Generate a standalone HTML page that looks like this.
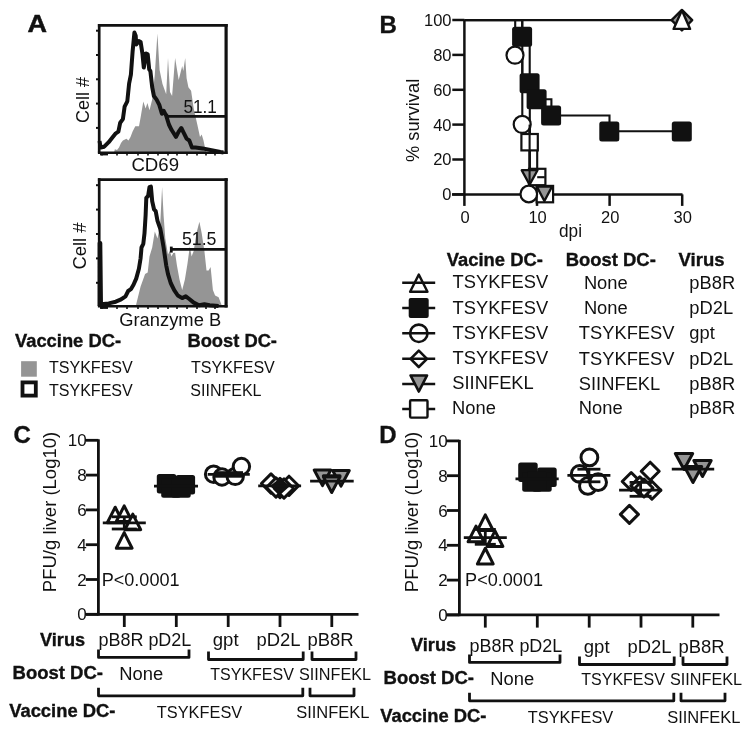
<!DOCTYPE html>
<html><head><meta charset="utf-8"><style>
html,body{margin:0;padding:0;background:#fff;}
body{width:751px;height:732px;overflow:hidden;}
svg{display:block;filter:grayscale(1);}
text{font-family:"Liberation Sans",sans-serif;fill:#111;}
</style></head><body>
<svg width="751" height="732" viewBox="0 0 751 732">
<rect width="751" height="732" fill="#fff"/>
<text x="27.6" y="32.4" font-size="24.5" font-weight="bold" stroke="#111" stroke-width="0.5" textLength="19.50" lengthAdjust="spacingAndGlyphs">A</text>
<polygon points="114.0,152.4 114.9,149.3 117.0,150.0 119.0,147.5 121.0,143.0 122.9,140.5 126.4,138.7 128.5,140.5 130.5,137.0 132.6,131.6 135.3,126.2 139.0,126.2 140.6,117.4 143.3,101.4 145.6,108.5 147.4,103.1 149.5,110.2 152.2,99.6 154.8,74.7 157.4,33.5 159.6,70.0 162.5,84.0 166.2,94.3 168.0,57.9 170.0,92.0 172.1,96.0 175.1,57.9 178.7,80.0 182.2,65.9 183.3,71.0 185.2,57.9 186.6,78.3 188.4,87.2 191.1,90.7 193.7,108.5 197.3,124.5 200.0,136.9 201.7,134.5 203.5,140.4 205.3,149.3 206.5,152.4" fill="#959597" stroke="none" stroke-width="0" stroke-linejoin="round"/>
<polyline points="99.5,141.0 100.7,147.6 104.2,146.7 108.7,142.2 112.2,137.8 115.8,133.3 118.4,131.6 120.2,122.7 122.9,119.1 124.6,106.7 127.3,101.4 129.1,83.6 130.9,74.7 132.6,51.6 134.4,32.6 135.7,35.7 136.2,44.5 138.9,41.0 140.6,41.9 142.4,53.4 143.8,67.6 146.0,53.4 147.7,54.3 149.2,69.4 150.4,71.2 152.2,87.2 153.9,96.0 156.6,99.6 159.3,104.9 161.9,113.8 163.6,110.8 166.2,115.6 168.9,124.5 171.5,129.8 176.0,136.9 178.7,131.6 181.3,128.0 184.0,133.3 186.6,138.7 189.3,140.5 192.0,147.6 195.5,147.6 202.6,148.4 211.5,150.2 220.4,152.0 223.5,152.4" fill="none" stroke="#111" stroke-width="4.0" stroke-linejoin="round"/>
<line x1="99.2" y1="152.8" x2="99.2" y2="24.0" stroke="#111" stroke-width="2.7" stroke-linecap="butt"/>
<line x1="97.9" y1="25.4" x2="227.7" y2="25.4" stroke="#111" stroke-width="2.8" stroke-linecap="butt"/>
<line x1="226.1" y1="24.0" x2="226.1" y2="154.0" stroke="#111" stroke-width="3.2" stroke-linecap="butt"/>
<line x1="97.9" y1="152.8" x2="227.5" y2="152.8" stroke="#111" stroke-width="2.5" stroke-linecap="butt"/>
<line x1="96.0" y1="30.7" x2="99.2" y2="30.7" stroke="#111" stroke-width="2.0" stroke-linecap="butt"/>
<line x1="96.0" y1="55.0" x2="99.2" y2="55.0" stroke="#111" stroke-width="2.0" stroke-linecap="butt"/>
<line x1="96.0" y1="79.3" x2="99.2" y2="79.3" stroke="#111" stroke-width="2.0" stroke-linecap="butt"/>
<line x1="96.0" y1="103.6" x2="99.2" y2="103.6" stroke="#111" stroke-width="2.0" stroke-linecap="butt"/>
<line x1="96.0" y1="127.9" x2="99.2" y2="127.9" stroke="#111" stroke-width="2.0" stroke-linecap="butt"/>
<line x1="102.0" y1="152.8" x2="102.0" y2="155.4" stroke="#111" stroke-width="1.6" stroke-linecap="butt"/>
<line x1="117.0" y1="152.8" x2="117.0" y2="155.4" stroke="#111" stroke-width="1.6" stroke-linecap="butt"/>
<line x1="127.0" y1="152.8" x2="127.0" y2="155.4" stroke="#111" stroke-width="1.6" stroke-linecap="butt"/>
<line x1="138.0" y1="152.8" x2="138.0" y2="155.4" stroke="#111" stroke-width="1.6" stroke-linecap="butt"/>
<line x1="148.0" y1="152.8" x2="148.0" y2="155.4" stroke="#111" stroke-width="1.6" stroke-linecap="butt"/>
<line x1="158.0" y1="152.8" x2="158.0" y2="155.4" stroke="#111" stroke-width="1.6" stroke-linecap="butt"/>
<line x1="168.0" y1="152.8" x2="168.0" y2="155.4" stroke="#111" stroke-width="1.6" stroke-linecap="butt"/>
<line x1="177.0" y1="152.8" x2="177.0" y2="155.4" stroke="#111" stroke-width="1.6" stroke-linecap="butt"/>
<line x1="187.0" y1="152.8" x2="187.0" y2="155.4" stroke="#111" stroke-width="1.6" stroke-linecap="butt"/>
<line x1="197.0" y1="152.8" x2="197.0" y2="155.4" stroke="#111" stroke-width="1.6" stroke-linecap="butt"/>
<line x1="206.0" y1="152.8" x2="206.0" y2="155.4" stroke="#111" stroke-width="1.6" stroke-linecap="butt"/>
<line x1="215.0" y1="152.8" x2="215.0" y2="155.4" stroke="#111" stroke-width="1.6" stroke-linecap="butt"/>
<line x1="100.0" y1="154.4" x2="108.0" y2="154.4" stroke="#111" stroke-width="2.0" stroke-linecap="butt"/>
<line x1="166.6" y1="116.4" x2="226.0" y2="116.4" stroke="#111" stroke-width="2.7" stroke-linecap="butt"/>
<line x1="167.2" y1="113.8" x2="167.2" y2="119.0" stroke="#111" stroke-width="2.0" stroke-linecap="butt"/>
<text x="183.5" y="113.1" font-size="18" textLength="33.40" lengthAdjust="spacingAndGlyphs">51.1</text>
<text x="131.4" y="170.7" font-size="18" textLength="47.60" lengthAdjust="spacingAndGlyphs">CD69</text>
<text transform="translate(89.4,100.0) rotate(-90)" x="0" y="0" font-size="18" text-anchor="middle" textLength="46.0" lengthAdjust="spacingAndGlyphs">Cell #</text>
<polygon points="136.0,306.3 136.2,304.3 140.6,286.6 145.1,274.1 147.7,272.4 149.5,256.4 152.2,247.5 154.8,231.5 157.5,238.6 160.2,224.4 162.1,187.1 163.6,215.5 165.3,238.6 168.0,254.6 169.8,251.0 171.5,256.4 173.2,253.0 175.1,252.8 176.9,265.3 179.5,279.5 182.2,290.1 184.9,279.5 187.5,263.5 189.8,246.6 191.6,256.4 193.7,251.0 196.4,233.3 199.4,221.7 201.7,233.3 204.4,251.0 206.5,270.6 208.6,270.6 210.6,267.0 212.9,290.1 215.1,295.5 218.6,297.2 221.3,304.3 222.0,306.3" fill="#959597" stroke="none" stroke-width="0" stroke-linejoin="round"/>
<polyline points="99.6,306.0 99.6,243.0 100.3,243.0 101.0,304.3 108.7,303.4 115.8,301.7 121.1,299.4 125.5,296.3 128.2,291.0 130.9,289.2 133.5,284.8 136.2,278.6 138.9,268.8 140.6,258.2 141.5,247.5 143.3,243.9 144.5,233.3 145.6,215.5 146.3,197.8 148.1,196.0 149.5,187.1 150.9,186.6 152.2,201.3 154.0,209.3 155.7,211.1 157.5,220.9 160.2,228.5 161.8,236.8 163.6,247.5 166.2,265.3 168.0,274.1 170.7,283.0 174.2,290.1 177.8,295.5 182.2,298.1 185.8,296.3 189.3,299.0 193.7,302.6 199.1,305.2 204.4,304.3 209.7,305.2 218.6,306.1" fill="none" stroke="#111" stroke-width="4.0" stroke-linejoin="round"/>
<line x1="99.2" y1="306.3" x2="99.2" y2="178.2" stroke="#111" stroke-width="2.7" stroke-linecap="butt"/>
<line x1="97.9" y1="179.6" x2="227.7" y2="179.6" stroke="#111" stroke-width="2.8" stroke-linecap="butt"/>
<line x1="226.1" y1="178.2" x2="226.1" y2="307.5" stroke="#111" stroke-width="3.2" stroke-linecap="butt"/>
<line x1="97.9" y1="306.3" x2="227.5" y2="306.3" stroke="#111" stroke-width="2.5" stroke-linecap="butt"/>
<line x1="96.0" y1="185.2" x2="99.2" y2="185.2" stroke="#111" stroke-width="2.0" stroke-linecap="butt"/>
<line x1="96.0" y1="209.6" x2="99.2" y2="209.6" stroke="#111" stroke-width="2.0" stroke-linecap="butt"/>
<line x1="96.0" y1="234.0" x2="99.2" y2="234.0" stroke="#111" stroke-width="2.0" stroke-linecap="butt"/>
<line x1="96.0" y1="258.4" x2="99.2" y2="258.4" stroke="#111" stroke-width="2.0" stroke-linecap="butt"/>
<line x1="96.0" y1="282.8" x2="99.2" y2="282.8" stroke="#111" stroke-width="2.0" stroke-linecap="butt"/>
<line x1="102.0" y1="306.3" x2="102.0" y2="308.9" stroke="#111" stroke-width="1.6" stroke-linecap="butt"/>
<line x1="117.0" y1="306.3" x2="117.0" y2="308.9" stroke="#111" stroke-width="1.6" stroke-linecap="butt"/>
<line x1="127.0" y1="306.3" x2="127.0" y2="308.9" stroke="#111" stroke-width="1.6" stroke-linecap="butt"/>
<line x1="138.0" y1="306.3" x2="138.0" y2="308.9" stroke="#111" stroke-width="1.6" stroke-linecap="butt"/>
<line x1="148.0" y1="306.3" x2="148.0" y2="308.9" stroke="#111" stroke-width="1.6" stroke-linecap="butt"/>
<line x1="158.0" y1="306.3" x2="158.0" y2="308.9" stroke="#111" stroke-width="1.6" stroke-linecap="butt"/>
<line x1="168.0" y1="306.3" x2="168.0" y2="308.9" stroke="#111" stroke-width="1.6" stroke-linecap="butt"/>
<line x1="177.0" y1="306.3" x2="177.0" y2="308.9" stroke="#111" stroke-width="1.6" stroke-linecap="butt"/>
<line x1="187.0" y1="306.3" x2="187.0" y2="308.9" stroke="#111" stroke-width="1.6" stroke-linecap="butt"/>
<line x1="197.0" y1="306.3" x2="197.0" y2="308.9" stroke="#111" stroke-width="1.6" stroke-linecap="butt"/>
<line x1="206.0" y1="306.3" x2="206.0" y2="308.9" stroke="#111" stroke-width="1.6" stroke-linecap="butt"/>
<line x1="215.0" y1="306.3" x2="215.0" y2="308.9" stroke="#111" stroke-width="1.6" stroke-linecap="butt"/>
<line x1="100.0" y1="307.9" x2="108.0" y2="307.9" stroke="#111" stroke-width="2.0" stroke-linecap="butt"/>
<line x1="171.0" y1="249.3" x2="226.0" y2="249.3" stroke="#111" stroke-width="2.8" stroke-linecap="butt"/>
<line x1="171.3" y1="246.6" x2="171.3" y2="252.6" stroke="#111" stroke-width="2.8" stroke-linecap="butt"/>
<text x="181.9" y="245.0" font-size="18" textLength="34.60" lengthAdjust="spacingAndGlyphs">51.5</text>
<text x="119.2" y="326.0" font-size="18" textLength="102.00" lengthAdjust="spacingAndGlyphs">Granzyme B</text>
<text transform="translate(86.3,246.0) rotate(-90)" x="0" y="0" font-size="18" text-anchor="middle" textLength="47.0" lengthAdjust="spacingAndGlyphs">Cell #</text>
<text x="15.0" y="346.6" font-size="18" font-weight="bold" stroke="#111" stroke-width="0.35" textLength="106.00" lengthAdjust="spacingAndGlyphs">Vaccine DC-</text>
<text x="187.4" y="346.6" font-size="18" font-weight="bold" stroke="#111" stroke-width="0.35" textLength="89.60" lengthAdjust="spacingAndGlyphs">Boost DC-</text>
<rect x="21.1" y="361.2" width="15.7" height="15.5" fill="#959597"/>
<rect x="22.5" y="382.4" width="13.3" height="13.2" fill="#fff" stroke="#111" stroke-width="3.8"/>
<text x="48.9" y="372.5" font-size="16" textLength="83.90" lengthAdjust="spacingAndGlyphs">TSYKFESV</text>
<text x="48.9" y="395.7" font-size="16" textLength="83.90" lengthAdjust="spacingAndGlyphs">TSYKFESV</text>
<text x="191.0" y="372.5" font-size="16" textLength="83.80" lengthAdjust="spacingAndGlyphs">TSYKFESV</text>
<text x="190.3" y="395.9" font-size="16" textLength="71.20" lengthAdjust="spacingAndGlyphs">SIINFEKL</text>
<text x="379.4" y="32.7" font-size="24" font-weight="bold" stroke="#111" stroke-width="0.35">B</text>
<line x1="464.4" y1="20.0" x2="464.4" y2="195.5" stroke="#111" stroke-width="2.5" stroke-linecap="butt"/>
<line x1="452.0" y1="194.4" x2="682.5" y2="194.4" stroke="#111" stroke-width="2.5" stroke-linecap="butt"/>
<line x1="452.3" y1="20.0" x2="464.4" y2="20.0" stroke="#111" stroke-width="2.5" stroke-linecap="butt"/>
<text x="451.5" y="25.9" font-size="16.5" text-anchor="end">100</text>
<line x1="452.3" y1="54.9" x2="464.4" y2="54.9" stroke="#111" stroke-width="2.5" stroke-linecap="butt"/>
<text x="451.5" y="60.8" font-size="16.5" text-anchor="end">80</text>
<line x1="452.3" y1="89.8" x2="464.4" y2="89.8" stroke="#111" stroke-width="2.5" stroke-linecap="butt"/>
<text x="451.5" y="95.7" font-size="16.5" text-anchor="end">60</text>
<line x1="452.3" y1="124.6" x2="464.4" y2="124.6" stroke="#111" stroke-width="2.5" stroke-linecap="butt"/>
<text x="451.5" y="130.5" font-size="16.5" text-anchor="end">40</text>
<line x1="452.3" y1="159.5" x2="464.4" y2="159.5" stroke="#111" stroke-width="2.5" stroke-linecap="butt"/>
<text x="451.5" y="165.4" font-size="16.5" text-anchor="end">20</text>
<line x1="452.3" y1="194.4" x2="464.4" y2="194.4" stroke="#111" stroke-width="2.5" stroke-linecap="butt"/>
<text x="451.5" y="200.3" font-size="16.5" text-anchor="end">0</text>
<line x1="464.4" y1="194.4" x2="464.4" y2="205.9" stroke="#111" stroke-width="2.5" stroke-linecap="butt"/>
<text x="465.0" y="222.9" font-size="16.5" text-anchor="middle">0</text>
<line x1="537.0" y1="194.4" x2="537.0" y2="205.9" stroke="#111" stroke-width="2.5" stroke-linecap="butt"/>
<text x="537.6" y="222.9" font-size="16.5" text-anchor="middle">10</text>
<line x1="609.6" y1="194.4" x2="609.6" y2="205.9" stroke="#111" stroke-width="2.5" stroke-linecap="butt"/>
<text x="610.2" y="222.9" font-size="16.5" text-anchor="middle">20</text>
<line x1="682.2" y1="194.4" x2="682.2" y2="205.9" stroke="#111" stroke-width="2.5" stroke-linecap="butt"/>
<text x="682.8" y="222.9" font-size="16.5" text-anchor="middle">30</text>
<text x="559.0" y="236.6" font-size="18" textLength="23.00" lengthAdjust="spacingAndGlyphs">dpi</text>
<text transform="translate(419.0,120.4) rotate(-90)" x="0" y="0" font-size="18" text-anchor="middle" textLength="83.2" lengthAdjust="spacingAndGlyphs">% survival</text>
<line x1="464.4" y1="20.1" x2="682.0" y2="20.1" stroke="#111" stroke-width="2.1" stroke-linecap="butt"/>
<polyline points="464.4,20.1 522.2,20.1 522.2,36.8 529.7,36.8 529.7,83.4 537.0,83.4 537.0,99.2 551.4,99.2 551.4,115.5 609.5,115.5 609.5,131.2 682.0,131.2" fill="none" stroke="#111" stroke-width="2.1" stroke-linejoin="miter"/>
<polyline points="515.2,20.1 515.2,55.2 522.3,55.2 522.3,124.6 529.6,124.6 529.6,194.4" fill="none" stroke="#111" stroke-width="2.1" stroke-linejoin="miter"/>
<polyline points="522.3,20.1 522.3,83.0 529.8,83.0 529.8,142.2 537.2,142.2 537.2,177.2 544.8,177.2 544.8,194.4" fill="none" stroke="#111" stroke-width="2.1" stroke-linejoin="miter"/>
<polyline points="529.8,142.0 529.8,177.2 544.8,177.2" fill="none" stroke="#111" stroke-width="2.1" stroke-linejoin="miter"/>
<polygon points="681.9,9.9 692.2,20.2 681.9,30.5 671.6,20.2" fill="#959597" stroke="#111" stroke-width="2.4" stroke-linejoin="round"/>
<polygon points="681.9,10.3 690.1,28.9 673.6,28.9" fill="#fff" stroke="#111" stroke-width="2.4" stroke-linejoin="round"/>
<rect x="512.1" y="26.8" width="20" height="20" rx="2.5" fill="#111"/>
<circle cx="515.0" cy="55.2" r="8.5" fill="#fff" stroke="#111" stroke-width="2.2"/>
<rect x="519.6" y="73.3" width="20" height="20" rx="2.5" fill="#111"/>
<rect x="526.6" y="89.2" width="20" height="20" rx="2.5" fill="#111"/>
<rect x="541.1" y="105.4" width="20" height="20" rx="2.5" fill="#111"/>
<rect x="599.3" y="121.4" width="20" height="20" rx="2.5" fill="#111"/>
<rect x="671.8" y="121.4" width="20" height="20" rx="2.5" fill="#111"/>
<circle cx="522.2" cy="124.4" r="8.5" fill="#fff" stroke="#111" stroke-width="2.2"/>
<rect x="521.4" y="134.0" width="16.4" height="16.4" fill="#fff" stroke="#111" stroke-width="2.2"/>
<rect x="529.0" y="168.8" width="16.4" height="16.4" fill="#fff" stroke="#111" stroke-width="2.2"/>
<polygon points="521.7,170.2 537.5,170.2 529.6,184.6" fill="#959597" stroke="#111" stroke-width="2.3" stroke-linejoin="round"/>
<line x1="529.6" y1="124.6" x2="529.6" y2="194.4" stroke="#111" stroke-width="2.1" stroke-linecap="butt"/>
<line x1="537.2" y1="177.2" x2="544.8" y2="177.2" stroke="#111" stroke-width="2.1" stroke-linecap="butt"/>
<rect x="536.7" y="185.9" width="16.4" height="16.4" fill="#fff" stroke="#111" stroke-width="2.2"/>
<polygon points="536.8,186.6 552.0,186.6 544.4,201.0" fill="#959597" stroke="#111" stroke-width="2.3" stroke-linejoin="round"/>
<circle cx="528.8" cy="194.0" r="8.3" fill="#fff" stroke="#111" stroke-width="2.2"/>
<text x="446.8" y="265.5" font-size="18" font-weight="bold" stroke="#111" stroke-width="0.35" textLength="96.00" lengthAdjust="spacingAndGlyphs">Vacine DC-</text>
<text x="565.8" y="265.6" font-size="18" font-weight="bold" stroke="#111" stroke-width="0.35" textLength="90.00" lengthAdjust="spacingAndGlyphs">Boost DC-</text>
<text x="678.6" y="265.6" font-size="18" font-weight="bold" stroke="#111" stroke-width="0.35" textLength="46.00" lengthAdjust="spacingAndGlyphs">Virus</text>
<text x="452.5" y="287.6" font-size="18" textLength="95.72" lengthAdjust="spacingAndGlyphs">TSYKFESV</text>
<text x="583.9" y="288.7" font-size="18" textLength="43.81" lengthAdjust="spacingAndGlyphs">None</text>
<text x="689.3" y="288.7" font-size="18" textLength="45.84" lengthAdjust="spacingAndGlyphs">pB8R</text>
<text x="452.5" y="313.7" font-size="18" textLength="95.72" lengthAdjust="spacingAndGlyphs">TSYKFESV</text>
<text x="583.9" y="314.1" font-size="18" textLength="43.81" lengthAdjust="spacingAndGlyphs">None</text>
<text x="689.3" y="314.1" font-size="18" textLength="43.81" lengthAdjust="spacingAndGlyphs">pD2L</text>
<text x="452.5" y="339.0" font-size="18" textLength="95.72" lengthAdjust="spacingAndGlyphs">TSYKFESV</text>
<text x="578.8" y="339.4" font-size="18" textLength="95.72" lengthAdjust="spacingAndGlyphs">TSYKFESV</text>
<text x="689.3" y="339.4" font-size="18" textLength="25.47" lengthAdjust="spacingAndGlyphs">gpt</text>
<text x="452.5" y="364.2" font-size="18" textLength="95.72" lengthAdjust="spacingAndGlyphs">TSYKFESV</text>
<text x="578.8" y="364.6" font-size="18" textLength="95.72" lengthAdjust="spacingAndGlyphs">TSYKFESV</text>
<text x="689.3" y="364.6" font-size="18" textLength="43.81" lengthAdjust="spacingAndGlyphs">pD2L</text>
<text x="452.3" y="389.3" font-size="18" textLength="81.47" lengthAdjust="spacingAndGlyphs">SIINFEKL</text>
<text x="578.8" y="389.7" font-size="18" textLength="81.47" lengthAdjust="spacingAndGlyphs">SIINFEKL</text>
<text x="689.3" y="389.7" font-size="18" textLength="45.84" lengthAdjust="spacingAndGlyphs">pB8R</text>
<text x="452.1" y="413.6" font-size="18" textLength="43.81" lengthAdjust="spacingAndGlyphs">None</text>
<text x="578.8" y="414.0" font-size="18" textLength="43.81" lengthAdjust="spacingAndGlyphs">None</text>
<text x="689.3" y="414.0" font-size="18" textLength="45.84" lengthAdjust="spacingAndGlyphs">pB8R</text>
<polygon points="418.8,274.6 427.5,291.8 410.1,291.8" fill="#fff" stroke="#111" stroke-width="2.4" stroke-linejoin="round"/>
<line x1="402.2" y1="282.7" x2="435.2" y2="282.7" stroke="#111" stroke-width="2.5" stroke-linecap="butt"/>
<line x1="402.2" y1="308.0" x2="435.2" y2="308.0" stroke="#111" stroke-width="2.5" stroke-linecap="butt"/>
<rect x="408.7" y="298.0" width="20" height="20" rx="2" fill="#111"/>
<circle cx="418.8" cy="333.3" r="8.7" fill="#fff" stroke="#111" stroke-width="2.6"/>
<line x1="402.2" y1="333.3" x2="435.2" y2="333.3" stroke="#111" stroke-width="2.5" stroke-linecap="butt"/>
<polygon points="418.8,350.6 427.0,358.8 418.8,367.0 410.6,358.8" fill="#fff" stroke="#111" stroke-width="2.6" stroke-linejoin="round"/>
<line x1="402.2" y1="358.7" x2="435.2" y2="358.7" stroke="#111" stroke-width="2.5" stroke-linecap="butt"/>
<line x1="402.2" y1="384.0" x2="435.2" y2="384.0" stroke="#111" stroke-width="2.5" stroke-linecap="butt"/>
<polygon points="410.6,375.5 427.0,375.5 418.8,391.5" fill="#959597" stroke="#111" stroke-width="2.7" stroke-linejoin="round"/>
<line x1="402.2" y1="408.9" x2="435.2" y2="408.9" stroke="#111" stroke-width="2.5" stroke-linecap="butt"/>
<rect x="410.1" y="400.2" width="17.4" height="17.4" rx="1" fill="#fff" stroke="#111" stroke-width="2.4"/>
<text x="13.4" y="443.3" font-size="24" font-weight="bold" stroke="#111" stroke-width="0.35">C</text>
<line x1="98.4" y1="439.3" x2="98.4" y2="615.5" stroke="#111" stroke-width="2.8" stroke-linecap="butt"/>
<line x1="85.8" y1="614.3" x2="358.5" y2="614.3" stroke="#111" stroke-width="2.8" stroke-linecap="butt"/>
<line x1="85.8" y1="440.3" x2="98.4" y2="440.3" stroke="#111" stroke-width="2.8" stroke-linecap="butt"/>
<text x="86.6" y="446.3" font-size="17" text-anchor="end">10</text>
<line x1="85.8" y1="475.1" x2="98.4" y2="475.1" stroke="#111" stroke-width="2.8" stroke-linecap="butt"/>
<text x="86.6" y="481.1" font-size="17" text-anchor="end">8</text>
<line x1="85.8" y1="509.9" x2="98.4" y2="509.9" stroke="#111" stroke-width="2.8" stroke-linecap="butt"/>
<text x="86.6" y="515.9" font-size="17" text-anchor="end">6</text>
<line x1="85.8" y1="544.7" x2="98.4" y2="544.7" stroke="#111" stroke-width="2.8" stroke-linecap="butt"/>
<text x="86.6" y="550.7" font-size="17" text-anchor="end">4</text>
<line x1="85.8" y1="579.5" x2="98.4" y2="579.5" stroke="#111" stroke-width="2.8" stroke-linecap="butt"/>
<text x="86.6" y="585.5" font-size="17" text-anchor="end">2</text>
<line x1="85.8" y1="614.3" x2="98.4" y2="614.3" stroke="#111" stroke-width="2.8" stroke-linecap="butt"/>
<text x="86.6" y="620.3" font-size="17" text-anchor="end">0</text>
<line x1="124.3" y1="614.3" x2="124.3" y2="627.0" stroke="#111" stroke-width="2.8" stroke-linecap="butt"/>
<line x1="176.3" y1="614.3" x2="176.3" y2="627.0" stroke="#111" stroke-width="2.8" stroke-linecap="butt"/>
<line x1="228.2" y1="614.3" x2="228.2" y2="627.0" stroke="#111" stroke-width="2.8" stroke-linecap="butt"/>
<line x1="280.0" y1="614.3" x2="280.0" y2="627.0" stroke="#111" stroke-width="2.8" stroke-linecap="butt"/>
<line x1="331.8" y1="614.3" x2="331.8" y2="627.0" stroke="#111" stroke-width="2.8" stroke-linecap="butt"/>
<text transform="translate(55.7,512.0) rotate(-90)" x="0" y="0" font-size="18" text-anchor="middle" textLength="160.3" lengthAdjust="spacingAndGlyphs">PFU/g liver (Log10)</text>
<text x="101.7" y="586.2" font-size="17.5" textLength="77.90" lengthAdjust="spacingAndGlyphs">P&lt;0.0001</text>
<polygon points="115.2,507.2 123.1,522.8 107.3,522.8" fill="#fff" stroke="#111" stroke-width="3.0" stroke-linejoin="round"/>
<polygon points="124.2,505.9 132.1,521.5 116.3,521.5" fill="#fff" stroke="#111" stroke-width="3.0" stroke-linejoin="round"/>
<polygon points="132.8,514.1 140.7,529.7 124.9,529.7" fill="#fff" stroke="#111" stroke-width="3.0" stroke-linejoin="round"/>
<polygon points="124.2,532.6 132.1,548.2 116.3,548.2" fill="#fff" stroke="#111" stroke-width="3.0" stroke-linejoin="round"/>
<line x1="102.8" y1="522.9" x2="145.8" y2="522.9" stroke="#111" stroke-width="2.8" stroke-linecap="butt"/>
<line x1="111.8" y1="516.8" x2="136.8" y2="516.8" stroke="#111" stroke-width="2.8" stroke-linecap="butt"/>
<line x1="111.8" y1="529.0" x2="136.8" y2="529.0" stroke="#111" stroke-width="2.8" stroke-linecap="butt"/>
<line x1="124.3" y1="516.8" x2="124.3" y2="529.0" stroke="#111" stroke-width="2.8" stroke-linecap="butt"/>
<rect x="156.8" y="473.9" width="19.5" height="19.5" rx="2.5" fill="#111"/>
<rect x="175.6" y="474.9" width="19.5" height="19.5" rx="2.5" fill="#111"/>
<rect x="161.2" y="478.2" width="19.5" height="19.5" rx="2.5" fill="#111"/>
<rect x="171.2" y="478.2" width="19.5" height="19.5" rx="2.5" fill="#111"/>
<line x1="154.0" y1="486.2" x2="198.0" y2="486.2" stroke="#111" stroke-width="2.8" stroke-linecap="butt"/>
<circle cx="213.6" cy="474.2" r="8.2" fill="#fff" stroke="#111" stroke-width="3.0"/>
<circle cx="222.0" cy="477.0" r="8.2" fill="#fff" stroke="#111" stroke-width="3.0"/>
<circle cx="235.2" cy="476.4" r="8.2" fill="#fff" stroke="#111" stroke-width="3.0"/>
<circle cx="241.4" cy="466.5" r="8.2" fill="#fff" stroke="#111" stroke-width="3.0"/>
<rect x="215" y="471.2" width="28" height="6.5" fill="#111"/>
<line x1="207.7" y1="474.4" x2="249.8" y2="474.4" stroke="#111" stroke-width="2.8" stroke-linecap="butt"/>
<polygon points="271.0,473.9 280.6,483.5 271.0,493.1 261.4,483.5" fill="#fff" stroke="#111" stroke-width="3.0" stroke-linejoin="round"/>
<polygon points="289.0,476.2 298.6,485.8 289.0,495.4 279.4,485.8" fill="#fff" stroke="#111" stroke-width="3.0" stroke-linejoin="round"/>
<polygon points="280.0,478.4 289.6,488.0 280.0,497.6 270.4,488.0" fill="#fff" stroke="#111" stroke-width="3.0" stroke-linejoin="round"/>
<polygon points="276.0,477.9 285.6,487.5 276.0,497.1 266.4,487.5" fill="#fff" stroke="#111" stroke-width="3.0" stroke-linejoin="round"/>
<polygon points="284.0,478.9 293.6,488.5 284.0,498.1 274.4,488.5" fill="#fff" stroke="#111" stroke-width="3.0" stroke-linejoin="round"/>
<polygon points="270,486 280,478 290,486 280,495" fill="#111"/>
<line x1="258.2" y1="485.9" x2="301.1" y2="485.9" stroke="#111" stroke-width="2.8" stroke-linecap="butt"/>
<polygon points="314.2,470.0 330.8,470.0 322.5,485.6" fill="#959597" stroke="#111" stroke-width="3.0" stroke-linejoin="round"/>
<polygon points="332.7,470.5 349.3,470.5 341.0,486.1" fill="#959597" stroke="#111" stroke-width="3.0" stroke-linejoin="round"/>
<polygon points="323.4,475.8 340.0,475.8 331.7,491.4" fill="#959597" stroke="#111" stroke-width="3.0" stroke-linejoin="round"/>
<polygon points="323.4,476.9 340.0,476.9 331.7,492.5" fill="#959597" stroke="#111" stroke-width="3.0" stroke-linejoin="round"/>
<line x1="310.1" y1="481.2" x2="353.7" y2="481.2" stroke="#111" stroke-width="2.8" stroke-linecap="butt"/>
<text x="40.0" y="645.6" font-size="18" font-weight="bold" stroke="#111" stroke-width="0.35" textLength="45.20" lengthAdjust="spacingAndGlyphs">Virus</text>
<text x="98.5" y="645.8" font-size="17.5" textLength="45.00" lengthAdjust="spacingAndGlyphs">pB8R</text>
<text x="148.4" y="645.8" font-size="17.5" textLength="42.90" lengthAdjust="spacingAndGlyphs">pD2L</text>
<text x="212.8" y="646.4" font-size="17.5" textLength="25.80" lengthAdjust="spacingAndGlyphs">gpt</text>
<text x="256.6" y="646.1" font-size="17.5" textLength="44.00" lengthAdjust="spacingAndGlyphs">pD2L</text>
<text x="307.4" y="646.1" font-size="17.5" textLength="46.20" lengthAdjust="spacingAndGlyphs">pB8R</text>
<text x="12.6" y="678.8" font-size="18" font-weight="bold" stroke="#111" stroke-width="0.35" textLength="90.40" lengthAdjust="spacingAndGlyphs">Boost DC-</text>
<text x="119.3" y="679.6" font-size="18" textLength="43.90" lengthAdjust="spacingAndGlyphs">None</text>
<text x="210.3" y="679.9" font-size="16.5" textLength="83.60" lengthAdjust="spacingAndGlyphs">TSYKFESV</text>
<text x="299.0" y="679.9" font-size="16.5" textLength="72.10" lengthAdjust="spacingAndGlyphs">SIINFEKL</text>
<text x="9.2" y="716.8" font-size="18" font-weight="bold" stroke="#111" stroke-width="0.35" textLength="106.20" lengthAdjust="spacingAndGlyphs">Vaccine DC-</text>
<text x="156.8" y="717.7" font-size="16.5" textLength="85.40" lengthAdjust="spacingAndGlyphs">TSYKFESV</text>
<text x="296.2" y="718.0" font-size="16.5" textLength="73.30" lengthAdjust="spacingAndGlyphs">SIINFEKL</text>
<path d="M98.5,649.4 L98.5,657.4 L189.0,657.4 L189.0,649.4" fill="none" stroke="#111" stroke-width="2.8" stroke-linejoin="round"/>
<path d="M208.5,651.5 L208.5,659.5 L303.2,659.5 L303.2,651.5" fill="none" stroke="#111" stroke-width="2.8" stroke-linejoin="round"/>
<path d="M312.0,651.5 L312.0,659.5 L356.0,659.5 L356.0,651.5" fill="none" stroke="#111" stroke-width="2.8" stroke-linejoin="round"/>
<path d="M98.5,687.8 L98.5,695.8 L302.8,695.8 L302.8,687.8" fill="none" stroke="#111" stroke-width="2.8" stroke-linejoin="round"/>
<path d="M310.0,687.8 L310.0,695.8 L354.0,695.8 L354.0,687.8" fill="none" stroke="#111" stroke-width="2.8" stroke-linejoin="round"/>
<text x="379.2" y="443.3" font-size="24" font-weight="bold" stroke="#111" stroke-width="0.35">D</text>
<line x1="459.4" y1="439.9" x2="459.4" y2="616.1" stroke="#111" stroke-width="2.8" stroke-linecap="butt"/>
<line x1="446.8" y1="614.9" x2="719.5" y2="614.9" stroke="#111" stroke-width="2.8" stroke-linecap="butt"/>
<line x1="446.8" y1="440.9" x2="459.4" y2="440.9" stroke="#111" stroke-width="2.8" stroke-linecap="butt"/>
<text x="447.6" y="446.9" font-size="17" text-anchor="end">10</text>
<line x1="446.8" y1="475.7" x2="459.4" y2="475.7" stroke="#111" stroke-width="2.8" stroke-linecap="butt"/>
<text x="447.6" y="481.7" font-size="17" text-anchor="end">8</text>
<line x1="446.8" y1="510.5" x2="459.4" y2="510.5" stroke="#111" stroke-width="2.8" stroke-linecap="butt"/>
<text x="447.6" y="516.5" font-size="17" text-anchor="end">6</text>
<line x1="446.8" y1="545.3" x2="459.4" y2="545.3" stroke="#111" stroke-width="2.8" stroke-linecap="butt"/>
<text x="447.6" y="551.3" font-size="17" text-anchor="end">4</text>
<line x1="446.8" y1="580.1" x2="459.4" y2="580.1" stroke="#111" stroke-width="2.8" stroke-linecap="butt"/>
<text x="447.6" y="586.1" font-size="17" text-anchor="end">2</text>
<line x1="446.8" y1="614.9" x2="459.4" y2="614.9" stroke="#111" stroke-width="2.8" stroke-linecap="butt"/>
<text x="447.6" y="620.9" font-size="17" text-anchor="end">0</text>
<line x1="485.3" y1="614.9" x2="485.3" y2="627.6" stroke="#111" stroke-width="2.8" stroke-linecap="butt"/>
<line x1="537.3" y1="614.9" x2="537.3" y2="627.6" stroke="#111" stroke-width="2.8" stroke-linecap="butt"/>
<line x1="589.2" y1="614.9" x2="589.2" y2="627.6" stroke="#111" stroke-width="2.8" stroke-linecap="butt"/>
<line x1="641.0" y1="614.9" x2="641.0" y2="627.6" stroke="#111" stroke-width="2.8" stroke-linecap="butt"/>
<line x1="692.8" y1="614.9" x2="692.8" y2="627.6" stroke="#111" stroke-width="2.8" stroke-linecap="butt"/>
<text transform="translate(418.4,512.0) rotate(-90)" x="0" y="0" font-size="18" text-anchor="middle" textLength="160.3" lengthAdjust="spacingAndGlyphs">PFU/g liver (Log10)</text>
<text x="465.1" y="586.2" font-size="17.5" textLength="77.90" lengthAdjust="spacingAndGlyphs">P&lt;0.0001</text>
<polygon points="485.3,514.9 493.2,530.5 477.4,530.5" fill="#fff" stroke="#111" stroke-width="3.0" stroke-linejoin="round"/>
<polygon points="476.0,526.1 483.9,541.7 468.1,541.7" fill="#fff" stroke="#111" stroke-width="3.0" stroke-linejoin="round"/>
<polygon points="495.0,530.9 502.9,546.5 487.1,546.5" fill="#fff" stroke="#111" stroke-width="3.0" stroke-linejoin="round"/>
<polygon points="485.3,548.3 493.2,563.9 477.4,563.9" fill="#fff" stroke="#111" stroke-width="3.0" stroke-linejoin="round"/>
<line x1="463.8" y1="537.7" x2="506.8" y2="537.7" stroke="#111" stroke-width="2.8" stroke-linecap="butt"/>
<line x1="474.8" y1="529.4" x2="495.8" y2="529.4" stroke="#111" stroke-width="2.8" stroke-linecap="butt"/>
<line x1="474.8" y1="544.3" x2="495.8" y2="544.3" stroke="#111" stroke-width="2.8" stroke-linecap="butt"/>
<line x1="485.3" y1="529.4" x2="485.3" y2="544.3" stroke="#111" stroke-width="2.8" stroke-linecap="butt"/>
<rect x="518.2" y="462.4" width="19.5" height="19.5" rx="2.5" fill="#111"/>
<rect x="537.2" y="467.4" width="19.5" height="19.5" rx="2.5" fill="#111"/>
<rect x="522.2" y="472.2" width="19.5" height="19.5" rx="2.5" fill="#111"/>
<rect x="532.2" y="472.2" width="19.5" height="19.5" rx="2.5" fill="#111"/>
<rect x="527.2" y="471.2" width="19.5" height="19.5" rx="2.5" fill="#111"/>
<line x1="515.5" y1="478.8" x2="558.7" y2="478.8" stroke="#111" stroke-width="2.8" stroke-linecap="butt"/>
<circle cx="589.4" cy="457.4" r="8.4" fill="#fff" stroke="#111" stroke-width="3.0"/>
<circle cx="579.7" cy="473.9" r="8.4" fill="#fff" stroke="#111" stroke-width="3.0"/>
<circle cx="587.9" cy="485.9" r="8.4" fill="#fff" stroke="#111" stroke-width="3.0"/>
<circle cx="598.1" cy="482.2" r="8.4" fill="#fff" stroke="#111" stroke-width="3.0"/>
<line x1="567.4" y1="475.4" x2="610.4" y2="475.4" stroke="#111" stroke-width="2.8" stroke-linecap="butt"/>
<line x1="577.4" y1="469.2" x2="600.4" y2="469.2" stroke="#111" stroke-width="2.8" stroke-linecap="butt"/>
<line x1="577.4" y1="481.8" x2="600.4" y2="481.8" stroke="#111" stroke-width="2.8" stroke-linecap="butt"/>
<line x1="588.9" y1="469.2" x2="588.9" y2="481.8" stroke="#111" stroke-width="2.8" stroke-linecap="butt"/>
<polygon points="650.2,462.2 659.2,471.2 650.2,480.2 641.2,471.2" fill="#fff" stroke="#111" stroke-width="3.0" stroke-linejoin="round"/>
<polygon points="631.2,472.5 640.2,481.5 631.2,490.5 622.2,481.5" fill="#fff" stroke="#111" stroke-width="3.0" stroke-linejoin="round"/>
<polygon points="639.8,476.9 648.8,485.9 639.8,494.9 630.8,485.9" fill="#fff" stroke="#111" stroke-width="3.0" stroke-linejoin="round"/>
<polygon points="651.9,481.2 660.9,490.2 651.9,499.2 642.9,490.2" fill="#fff" stroke="#111" stroke-width="3.0" stroke-linejoin="round"/>
<polygon points="644.0,479.0 653.0,488.0 644.0,497.0 635.0,488.0" fill="#fff" stroke="#111" stroke-width="3.0" stroke-linejoin="round"/>
<polygon points="629.4,505.4 638.4,514.4 629.4,523.4 620.4,514.4" fill="#fff" stroke="#111" stroke-width="3.0" stroke-linejoin="round"/>
<line x1="619.1" y1="490.2" x2="662.1" y2="490.2" stroke="#111" stroke-width="2.8" stroke-linecap="butt"/>
<line x1="629.6" y1="482.4" x2="651.6" y2="482.4" stroke="#111" stroke-width="2.8" stroke-linecap="butt"/>
<line x1="629.6" y1="496.3" x2="651.6" y2="496.3" stroke="#111" stroke-width="2.8" stroke-linecap="butt"/>
<line x1="640.6" y1="482.4" x2="640.6" y2="496.3" stroke="#111" stroke-width="2.8" stroke-linecap="butt"/>
<polygon points="675.3,453.5 692.7,453.5 684.0,469.5" fill="#959597" stroke="#111" stroke-width="3.0" stroke-linejoin="round"/>
<polygon points="693.8,460.5 711.2,460.5 702.5,476.5" fill="#959597" stroke="#111" stroke-width="3.0" stroke-linejoin="round"/>
<polygon points="684.3,466.5 701.7,466.5 693.0,482.5" fill="#959597" stroke="#111" stroke-width="3.0" stroke-linejoin="round"/>
<line x1="671.8" y1="469.1" x2="714.2" y2="469.1" stroke="#111" stroke-width="2.8" stroke-linecap="butt"/>
<text x="411.0" y="650.6" font-size="18" font-weight="bold" stroke="#111" stroke-width="0.35" textLength="45.20" lengthAdjust="spacingAndGlyphs">Virus</text>
<text x="469.5" y="652.2" font-size="17.5" textLength="45.00" lengthAdjust="spacingAndGlyphs">pB8R</text>
<text x="519.4" y="652.2" font-size="17.5" textLength="42.90" lengthAdjust="spacingAndGlyphs">pD2L</text>
<text x="583.8" y="652.8" font-size="17.5" textLength="25.80" lengthAdjust="spacingAndGlyphs">gpt</text>
<text x="627.6" y="652.5" font-size="17.5" textLength="44.00" lengthAdjust="spacingAndGlyphs">pD2L</text>
<text x="678.4" y="652.5" font-size="17.5" textLength="46.20" lengthAdjust="spacingAndGlyphs">pB8R</text>
<text x="383.6" y="683.8" font-size="18" font-weight="bold" stroke="#111" stroke-width="0.35" textLength="90.40" lengthAdjust="spacingAndGlyphs">Boost DC-</text>
<text x="490.3" y="684.6" font-size="18" textLength="43.90" lengthAdjust="spacingAndGlyphs">None</text>
<text x="581.3" y="684.9" font-size="16.5" textLength="83.60" lengthAdjust="spacingAndGlyphs">TSYKFESV</text>
<text x="670.0" y="684.9" font-size="16.5" textLength="72.10" lengthAdjust="spacingAndGlyphs">SIINFEKL</text>
<text x="380.2" y="721.8" font-size="18" font-weight="bold" stroke="#111" stroke-width="0.35" textLength="106.20" lengthAdjust="spacingAndGlyphs">Vaccine DC-</text>
<text x="527.8" y="722.7" font-size="16.5" textLength="85.40" lengthAdjust="spacingAndGlyphs">TSYKFESV</text>
<text x="667.2" y="723.0" font-size="16.5" textLength="73.30" lengthAdjust="spacingAndGlyphs">SIINFEKL</text>
<path d="M469.5,654.4 L469.5,662.4 L560.0,662.4 L560.0,654.4" fill="none" stroke="#111" stroke-width="2.8" stroke-linejoin="round"/>
<path d="M579.5,656.5 L579.5,664.5 L674.2,664.5 L674.2,656.5" fill="none" stroke="#111" stroke-width="2.8" stroke-linejoin="round"/>
<path d="M683.0,656.5 L683.0,664.5 L727.0,664.5 L727.0,656.5" fill="none" stroke="#111" stroke-width="2.8" stroke-linejoin="round"/>
<path d="M469.5,692.8 L469.5,700.8 L673.8,700.8 L673.8,692.8" fill="none" stroke="#111" stroke-width="2.8" stroke-linejoin="round"/>
<path d="M681.0,692.8 L681.0,700.8 L725.0,700.8 L725.0,692.8" fill="none" stroke="#111" stroke-width="2.8" stroke-linejoin="round"/>
</svg>
</body></html>
